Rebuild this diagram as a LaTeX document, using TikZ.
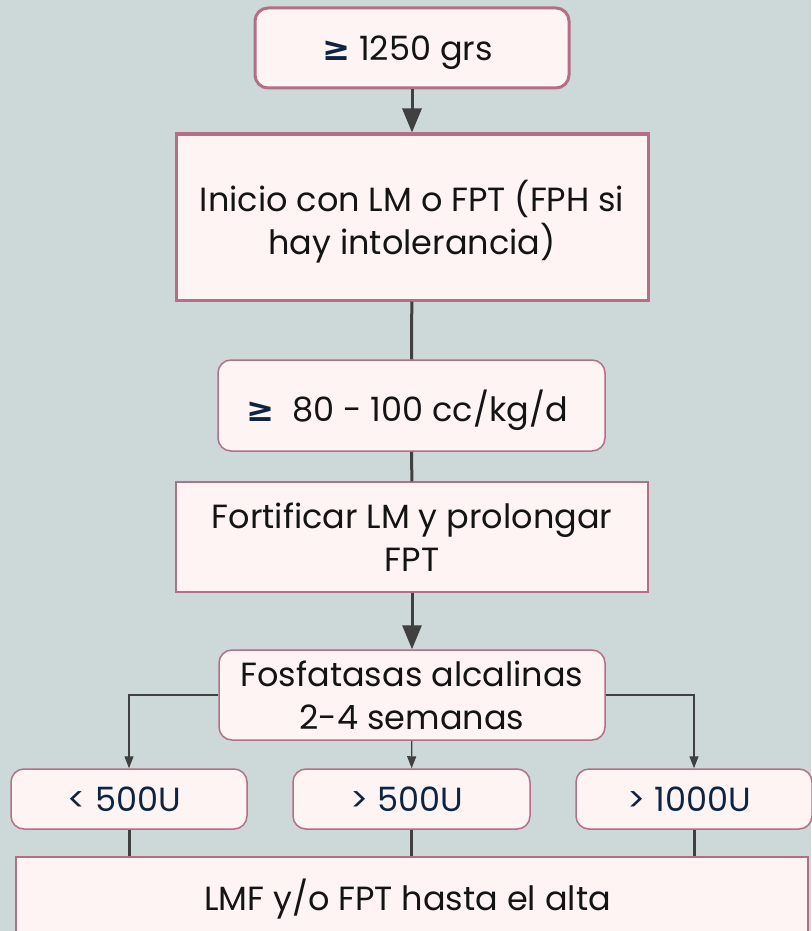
\documentclass[tikz,border=0pt]{standalone}
\usepackage{fontspec}
\setmainfont{Poppins}
\newfontfamily\geqfont{DejaVu Sans}
\usetikzlibrary{positioning, arrows.meta}
\usepackage{xcolor}
\definecolor{pagecolor}{RGB}{205,217,217}
\definecolor{boxfill}{RGB}{255,244,244}
\definecolor{boxline}{RGB}{180,110,134}
\definecolor{linkcolor}{RGB}{64,64,64}
\definecolor{navytext}{RGB}{14,36,64}
\definecolor{maintext}{RGB}{20,20,20}

\begin{document}
\begin{tikzpicture}[x=1pt, y=-1pt]
  \tikzset{
    roundbox/.style={
      draw=boxline,
      fill=boxfill,
      line width=1.5pt,
      rounded corners=13pt,
      inner sep=0pt,
      text depth=0pt,
      align=center,
      text=maintext,
      font=\fontsize{33.5}{43}\selectfont
    },
    squarebox/.style={
      draw=boxline,
      fill=boxfill,
      line width=1.5pt,
      inner sep=0pt,
      text depth=0pt,
      align=center,
      text=maintext,
      font=\fontsize{33.5}{43}\selectfont
    },
    heavy/.style={
      line width=3pt
    },
    bigarrow/.style={
      draw=linkcolor,
      line width=3pt,
      -{Triangle[length=24pt,width=19pt]}
    },
    bigline/.style={
      draw=linkcolor,
      line width=3pt
    },
    smallarrow/.style={
      draw=linkcolor,
      line width=1.3pt,
      -{Triangle[length=12pt,width=9pt]}
    }
  }
  \newcommand{\geqsign}{{\geqfont\bfseries\color{navytext}\char"2265}}

  % Background
  \fill[pagecolor] (0,0) rectangle (811,931);
  \useasboundingbox (0,0) rectangle (811,931);

  % Weight and start of feeding
    \node[roundbox, heavy, minimum width=314pt, minimum height=80pt] at (412, 48) (weight) {
        \geqsign\ 1250 grs
    };
    \node[squarebox, heavy, minimum width=472pt, minimum height=166pt] at (412, 217) (start) {
        Inicio con LM o FPT (FPH si\\hay intolerancia)
    };

  % Volume and fortification
    \node[roundbox, minimum width=387pt, minimum height=91pt] at (411.5, 405.5) (volume) {
        \geqsign\ \ 80 - 100 cc/kg/d
    };
    \node[squarebox, minimum width=472pt, minimum height=110pt] at (412, 537) (fortify) {
        Fortificar LM y prolongar\\FPT
    };
    \node[roundbox, minimum width=386pt, minimum height=90pt] at (412, 695) (phos) {
        Fosfatasas alcalinas\\2-4 semanas
    };

  % Alkaline phosphatase results
    \node[roundbox, text=navytext, minimum width=236pt, minimum height=60pt] at (129, 799) (low) {
        < 500U
    };
    \node[roundbox, text=navytext, minimum width=237pt, minimum height=60pt] at (411.5, 799) (mid) {
        > 500U
    };
    \node[roundbox, text=navytext, minimum width=236pt, minimum height=60pt] at (694, 799) (high) {
        > 1000U
    };

  % Discharge
    \node[squarebox, minimum width=792pt, minimum height=76pt] at (412, 895) (final) {
        LMF y/o FPT hasta el alta
    };

  % Connectors
  \draw[bigarrow] (weight) -- (start);
  \draw[bigline] (start) -- (volume);
  \draw[bigline] (volume) -- (fortify);
  \draw[bigarrow] (fortify) -- (phos);
  \draw[smallarrow] (phos.west) -| (low.north);
  \draw[smallarrow] (phos) -- (mid);
  \draw[smallarrow] (phos.east) -| (high.north);
  \draw[bigline] (low.south) -- (low.south |- final.north);
  \draw[bigline] (mid.south) -- (mid.south |- final.north);
  \draw[bigline] (high.south) -- (high.south |- final.north);

\end{tikzpicture}
\end{document}
